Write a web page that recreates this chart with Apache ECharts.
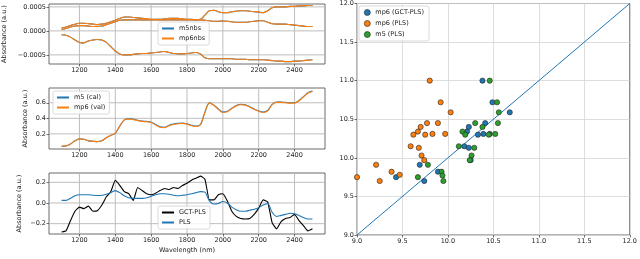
<!DOCTYPE html>
<html><head><meta charset="utf-8">
<script src="https://cdn.jsdelivr.net/npm/echarts@6/dist/echarts.min.js"></script>
<style>html,body{margin:0;padding:0;background:#fff}#c{width:640px;height:259px}</style>
</head><body><div id="c"></div>
<script>
const wavelengths = [1100,1125,1150,1175,1200,1225,1250,1275,1300,1325,1350,1375,1400,1425,1450,1475,1500,1525,1550,1575,1600,1625,1650,1675,1700,1725,1750,1775,1800,1825,1850,1875,1900,1925,1950,1975,2000,2025,2050,2075,2100,2125,2150,2175,2200,2225,2250,2275,2300,2325,2350,2375,2400,2425,2450,2475,2500];
// top panel: three nbs curves (m5 and mp6 nearly identical)
const nbsUpper = [0.00006,0.00008,0.00011,0.00014,0.00016,0.00016,0.00015,0.00014,0.00013,0.00014,0.00016,0.00019,0.00022,0.00026,0.00029,0.00029,0.00028,0.00027,0.00026,0.00025,0.00024,0.00024,0.00024,0.00025,0.00026,0.00026,0.00026,0.00025,0.00024,0.00024,0.00023,0.00023,0.00022,0.00021,0.00020,0.00020,0.000205,0.00020,0.00019,0.00018,0.00018,0.00018,0.00019,0.00020,0.00021,0.00021,0.00018,0.00015,0.00014,0.00014,0.00014,0.00013,0.00012,0.00011,0.00010,0.00009,0.00009];
const nbsMiddle = [0.00003,0.00005,0.00008,0.00010,0.00011,0.00011,0.00010,0.00009,0.00009,0.00010,0.00013,0.00016,0.00019,0.00022,0.00023,0.00023,0.00023,0.00023,0.00023,0.00023,0.00023,0.00023,0.00023,0.00023,0.00023,0.00023,0.00023,0.00023,0.00023,0.00023,0.00023,0.00024,0.00033,0.00042,0.00043,0.00040,0.00038,0.00038,0.00040,0.00041,0.00042,0.00042,0.00041,0.00040,0.00039,0.00038,0.00042,0.00048,0.00050,0.00050,0.00050,0.00051,0.00051,0.00052,0.00052,0.00053,0.00053];
const nbsLower = [-0.00008,-0.00009,-0.00013,-0.00019,-0.00024,-0.00025,-0.00021,-0.00019,-0.00018,-0.00019,-0.00024,-0.00033,-0.00042,-0.00048,-0.00050,-0.00050,-0.00049,-0.00048,-0.00047,-0.00047,-0.00046,-0.00045,-0.00044,-0.00043,-0.00045,-0.00047,-0.00048,-0.00048,-0.00047,-0.00046,-0.00045,-0.00048,-0.00056,-0.00058,-0.00058,-0.00058,-0.00058,-0.00058,-0.00058,-0.00059,-0.00059,-0.00059,-0.00060,-0.00060,-0.00060,-0.00060,-0.00061,-0.00062,-0.00063,-0.00063,-0.00064,-0.00064,-0.00063,-0.00063,-0.00062,-0.00061,-0.00060];
// middle panel: mean spectra
const m5Cal = [0.04,0.045,0.07,0.11,0.135,0.13,0.11,0.105,0.10,0.11,0.15,0.18,0.21,0.30,0.38,0.395,0.39,0.375,0.365,0.36,0.35,0.32,0.29,0.285,0.31,0.325,0.335,0.34,0.33,0.31,0.30,0.32,0.48,0.60,0.57,0.52,0.48,0.49,0.53,0.565,0.58,0.575,0.55,0.52,0.495,0.48,0.50,0.58,0.61,0.61,0.605,0.60,0.60,0.63,0.68,0.73,0.75];
const mp6Val = [0.04,0.045,0.07,0.11,0.135,0.13,0.11,0.105,0.10,0.11,0.15,0.18,0.21,0.30,0.38,0.39,0.385,0.37,0.36,0.355,0.345,0.315,0.285,0.28,0.305,0.32,0.33,0.335,0.325,0.305,0.295,0.315,0.475,0.595,0.565,0.515,0.475,0.485,0.525,0.56,0.575,0.57,0.545,0.515,0.49,0.475,0.495,0.575,0.605,0.605,0.60,0.595,0.595,0.625,0.675,0.725,0.745];
// bottom panel: regression coefficients
const gctPls = [-0.28,-0.27,-0.17,-0.08,-0.04,-0.055,-0.03,-0.08,-0.075,-0.02,0.06,0.11,0.22,0.17,0.11,0.09,0.025,0.15,0.12,0.09,0.08,0.095,0.12,0.14,0.13,0.15,0.14,0.17,0.19,0.22,0.24,0.26,0.23,0.03,0.03,0.08,0.09,0.02,-0.08,-0.13,-0.15,-0.155,-0.15,-0.11,-0.05,0.03,0.01,-0.19,-0.25,-0.18,-0.15,-0.14,-0.11,-0.17,-0.22,-0.27,-0.25];
const pls = [0.025,0.025,0.045,0.07,0.08,0.08,0.08,0.075,0.072,0.075,0.085,0.10,0.12,0.10,0.07,0.05,0.045,0.045,0.045,0.05,0.065,0.08,0.09,0.09,0.085,0.075,0.07,0.075,0.08,0.09,0.10,0.11,0.105,0.02,-0.01,-0.005,0.015,0.0,-0.04,-0.065,-0.08,-0.08,-0.07,-0.06,-0.045,-0.02,-0.005,-0.09,-0.13,-0.12,-0.11,-0.10,-0.105,-0.12,-0.14,-0.155,-0.155];
// right panel: predicted (x) vs reference (y)
const mp6GctX = [10.38,10.49,10.68,10.41,10.23,10.21,10.33,10.39,10.46,10.18,10.23,10.25,9.69,9.89,9.43,9.74];
const mp6GctY = [11.0,10.72,10.59,10.45,10.40,10.34,10.30,10.31,10.31,10.15,10.13,9.97,9.91,9.82,9.75,9.70];
const mp6PlsX = [9.80,9.92,10.03,9.77,9.89,9.70,9.67,9.62,9.75,9.83,9.97,9.59,9.68,9.71,9.74,9.21,9.38,9.47,9.0,9.25];
const mp6PlsY = [11.0,10.72,10.59,10.45,10.45,10.40,10.34,10.30,10.30,10.31,10.31,10.15,10.13,10.03,9.97,9.91,9.82,9.78,9.75,9.70];
const m5PlsX = [10.46,10.54,10.56,10.55,10.30,10.38,10.16,10.19,10.45,10.52,10.12,10.29,10.26,10.24,9.78,9.93,9.94,9.67,9.95];
const m5PlsY = [11.0,10.72,10.59,10.45,10.45,10.40,10.34,10.30,10.30,10.31,10.15,10.13,10.03,9.97,9.91,9.82,9.77,9.75,9.70];
const identityRange = [9, 12];
const xTicks = [1200,1400,1600,1800,2000,2200,2400];
const topTicks = [-0.0005,0,0.0005];
const midTicks = [0.2,0.4,0.6];
const botTicks = [-0.2,0.0,0.2];

const C = {blue:'#1f77b4', orange:'#ff7f0e', green:'#2ca02c', black:'#000000'};
const FONT = 'DejaVu Sans';
const FS = 6.5;
const GRIDC = '#d6d6d6';
const GRIDS = '#bdbdbd';
const XMIN = 1030, XMAX = 2570;
const YR = [[-0.00069, 0.00056],[0.005, 0.79],[-0.3, 0.29]];
const pair = (xs, ys) => xs.map((x,i)=>[x, ys[i]]);
const fmtMinus = s => s.replace('-', '\u2212');

function xAxisLeft(gi){
  return {type:'value', gridIndex:gi, min:XMIN, max:XMAX,
    axisLine:{show:false, onZero:false},
    axisTick:{show:true, customValues:xTicks, length:2.5, lineStyle:{color:'#333', width:0.7}},
    axisLabel:{customValues:xTicks, fontFamily:FONT, fontSize:FS, color:'#222', margin:3, formatter:v=>String(v)},
    splitLine:{show:false}};
}
function yAxisLeft(gi, ticks, fmt, gap){
  return {type:'value', gridIndex:gi, min:YR[gi][0], max:YR[gi][1],
    name:'Absorbance (a.u.)', nameLocation:'middle', nameGap:gap,
    nameTextStyle:{fontFamily:FONT, fontSize:FS, color:'#222'},
    axisLine:{show:false, onZero:false},
    axisTick:{show:true, customValues:ticks, length:2.5, lineStyle:{color:'#333', width:0.7}},
    axisLabel:{customValues:ticks, fontFamily:FONT, fontSize:FS, color:'#222', margin:3, formatter:fmt},
    splitLine:{show:false}};
}
function axisRight(){
  return {type:'value', gridIndex:3, min:9, max:12, interval:0.5,
    axisLine:{show:false, onZero:false},
    axisTick:{show:true, length:2.5, lineStyle:{color:'#333', width:0.7}},
    axisLabel:{fontFamily:FONT, fontSize:FS, color:'#222', margin:3, formatter:v=>v.toFixed(1), showMinLabel:true, showMaxLabel:true},
    splitLine:{show:true, lineStyle:{color:GRIDC, width:0.8}}};
}
// grid lines at the tick values, drawn through each panel's axes
function gridLines(gi, yTicks){
  const out = [];
  const mk = (nm, data) => ({name:nm, type:'line', xAxisIndex:gi, yAxisIndex:gi, z:2,
    showSymbol:false, data:data, lineStyle:{color:GRIDS, width:1}});
  xTicks.forEach(t=>out.push(mk('gx'+gi+'_'+t, [[t, YR[gi][0]],[t, YR[gi][1]]])));
  yTicks.forEach(t=>out.push(mk('gy'+gi+'_'+t, [[XMIN, t],[XMAX, t]])));
  return out;
}
const lineS = (name, gi, data, color, w) => ({name:name, type:'line', xAxisIndex:gi, yAxisIndex:gi,
  data: pair(wavelengths, data), showSymbol:false, symbol:'none', smooth:0.3, z:3,
  lineStyle:{color:color, width:w||1.1}, itemStyle:{color:color}});
const scat = (name, xs, ys, color) => ({name:name, type:'scatter', xAxisIndex:3, yAxisIndex:3,
  data: pair(xs, ys), symbol:'circle', symbolSize:5.2, z:3,
  itemStyle:{color:color, borderColor:'#222', borderWidth:0.6, opacity:1}});

const legBase = {orient:'vertical', backgroundColor:'rgba(255,255,255,0.85)', borderColor:'#d0d0d0', borderWidth:0.8, borderRadius:2,
  padding:[3,4,3,4], itemGap:3, z:10, textStyle:{fontFamily:FONT, fontSize:FS, color:'#222'}};

const option = {
  animation:false,
  grid:[
    {left:49, top:4, width:276, height:60, show:true, borderColor:'#444', borderWidth:0.8},
    {left:49, top:88, width:276, height:61, show:true, borderColor:'#444', borderWidth:0.8},
    {left:49, top:173, width:276, height:61, show:true, borderColor:'#444', borderWidth:0.8},
    {left:357, top:2, width:276, height:233, show:true, borderColor:'#444', borderWidth:0.8}
  ],
  xAxis:[xAxisLeft(0), xAxisLeft(1), Object.assign(xAxisLeft(2), {name:'Wavelength (nm)', nameLocation:'middle', nameGap:13, nameTextStyle:{fontFamily:FONT, fontSize:FS, color:'#222'}}), axisRight()],
  yAxis:[
    yAxisLeft(0, topTicks, v=>fmtMinus(v.toFixed(4)), 41),
    yAxisLeft(1, midTicks, v=>v.toFixed(1), 20),
    yAxisLeft(2, botTicks, v=>fmtMinus(v.toFixed(1)), 26),
    axisRight()
  ],
  legend:[
    Object.assign({}, legBase, {left:158, top:22, itemWidth:12, itemHeight:2, icon:'rect', data:[{name:'m5nbs'},{name:'mp6nbs'}]}),
    Object.assign({}, legBase, {left:53, top:91, itemWidth:12, itemHeight:2, icon:'rect', data:[{name:'m5 (cal)'},{name:'mp6 (val)'}]}),
    Object.assign({}, legBase, {left:158, top:206, itemWidth:12, itemHeight:2, icon:'rect', data:[{name:'GCT-PLS'},{name:'PLS'}]}),
    Object.assign({}, legBase, {left:359, top:6, itemWidth:6, itemHeight:6, icon:'circle', itemGap:4, padding:[3,5,3,5], data:[{name:'mp6 (GCT-PLS)', itemStyle:{borderColor:'#222', borderWidth:0.6}},{name:'mp6 (PLS)', itemStyle:{borderColor:'#222', borderWidth:0.6}},{name:'m5 (PLS)', itemStyle:{borderColor:'#222', borderWidth:0.6}}]})
  ],
  series:[].concat(gridLines(0, topTicks), gridLines(1, midTicks), gridLines(2, botTicks), [
    lineS('m5nbs',0,nbsUpper,C.blue), lineS('m5nbs',0,nbsMiddle,C.blue), lineS('m5nbs',0,nbsLower,C.blue),
    lineS('mp6nbs',0,nbsUpper,C.orange), lineS('mp6nbs',0,nbsMiddle,C.orange), lineS('mp6nbs',0,nbsLower,C.orange),
    lineS('m5 (cal)',1,m5Cal,C.blue), lineS('mp6 (val)',1,mp6Val,C.orange),
    Object.assign(lineS('GCT-PLS',2,gctPls,C.black), {smooth:0.15}), lineS('PLS',2,pls,C.blue),
    {name:'identity', type:'line', xAxisIndex:3, yAxisIndex:3, data: identityRange.map(v=>[v,v]), showSymbol:false, symbol:'none', lineStyle:{color:C.blue, width:1}, z:2},
    scat('mp6 (GCT-PLS)', mp6GctX, mp6GctY, C.blue),
    scat('mp6 (PLS)', mp6PlsX, mp6PlsY, C.orange),
    scat('m5 (PLS)', m5PlsX, m5PlsY, C.green)
  ])
};
const chart = echarts.init(document.getElementById('c'));
chart.setOption(option);
</script></body></html>
